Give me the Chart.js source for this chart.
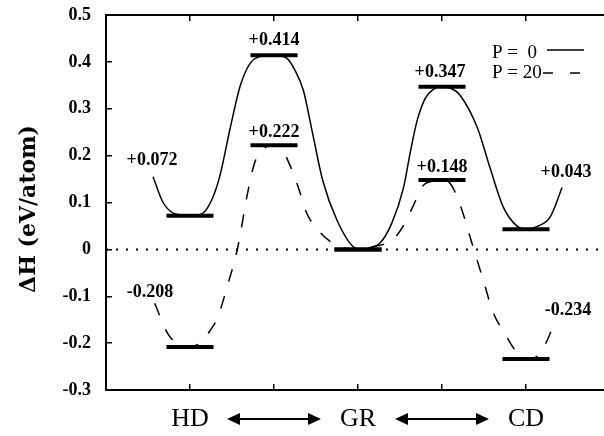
<!DOCTYPE html>
<html><head><meta charset="utf-8">
<script src="https://cdn.jsdelivr.net/npm/chart.js@4"></script>
<style>
html,body{margin:0;padding:0;overflow:hidden;background:#fff;width:604px;height:436px}
#wrap{width:604px;height:436px;overflow:hidden;position:relative}
canvas{display:block}
</style></head>
<body><div id="wrap"><canvas id="c" width="616" height="436"></canvas></div>
<script>
// ---- data ----
const levelX = [1, 2, 3, 4, 5];
const levelsP0 = [0.072, 0.414, 0, 0.347, 0.043];
const levelsP20 = [-0.208, 0.222, 0, 0.148, -0.234];
const labelsP0 = ['+0.072', '+0.414', '', '+0.347', '+0.043'];
const labelsP20 = ['-0.208', '+0.222', '', '+0.148', '-0.234'];
const categoryLabels = ['', 'HD', '', 'GR', '', 'CD', ''];
const arrowCenters = [2, 4];
const legendLabels = ['P =  0', 'P = 20'];
const yTitle = '\u0394H (eV/atom)';

const curveP0X = [0.56,0.68,0.82,1.00,1.15,1.27,1.36,1.48,1.60,1.72,1.85,2.00,2.15,2.25,2.35,2.46,2.58,2.75,2.94,3.05,3.15,3.26,3.40,3.54,3.62,3.70,3.80,3.90,4.00,4.10,4.21,4.42,4.57,4.73,4.89,5.00,5.15,5.29,5.43];
const curveP0Y = [0.155,0.100,0.076,0.072,0.077,0.110,0.160,0.260,0.350,0.398,0.412,0.414,0.408,0.382,0.339,0.247,0.147,0.062,0.006,0.000,0.004,0.013,0.055,0.130,0.205,0.272,0.322,0.342,0.347,0.344,0.330,0.260,0.175,0.090,0.050,0.043,0.050,0.070,0.132];

const curveP20X = [0.58,0.73,0.87,1.00,1.13,1.24,1.33,1.45,1.57,1.68,1.77,1.88,2.00,2.10,2.20,2.29,2.39,2.55,2.75,3.00,3.20,3.42,3.54,3.65,3.77,3.90,4.00,4.10,4.21,4.37,4.49,4.61,4.75,4.87,5.00,5.15,5.25,5.32];
const curveP20Y = [-0.115,-0.178,-0.204,-0.208,-0.198,-0.173,-0.145,-0.075,0.005,0.115,0.185,0.215,0.222,0.212,0.175,0.132,0.077,0.036,0.008,0.000,0.006,0.022,0.050,0.090,0.135,0.146,0.148,0.140,0.098,0.005,-0.065,-0.135,-0.180,-0.215,-0.234,-0.226,-0.195,-0.165];

// ---- layout / style ----
const BAR_HALF = 0.28;
const SERIF = "'Liberation Serif', 'Times New Roman', serif";
const labelOffsetsP0 = [[-38,-55],[0,-15],null,[-2,-14],[40,-57]];
const labelOffsetsP20 = [[-40,-55],[0,-13],null,[0,-13],[42,-49]];

function pts(xs, ys) { return xs.map((x, i) => ({x, y: ys[i]})); }
function barSegs(xs, vs) {
  const out = [];
  xs.forEach((x, i) => {
    out.push({x: x - BAR_HALF, y: vs[i]}, {x: x + BAR_HALF, y: vs[i]}, {x: x + BAR_HALF + 0.001, y: null});
  });
  return out;
}
function noPad(s) { s.paddingLeft = 0; s.paddingRight = 0; s.paddingTop = 0; s.paddingBottom = 0; }

const frameBorder = { display: true, color: '#000', width: 2 };
const inwardTicks = { display: true, drawOnChartArea: false, drawTicks: true, tickLength: -6, color: '#000', lineWidth: 1.5 };

const deco = {
  id: 'deco',
  afterDraw(chart) {
    const ctx = chart.ctx;
    const x = chart.scales.x, y = chart.scales.y;
    ctx.save();
    ctx.setLineDash([]);
    ctx.fillStyle = '#000'; ctx.strokeStyle = '#000';
    ctx.font = 'bold 18px ' + SERIF;
    ctx.textAlign = 'center'; ctx.textBaseline = 'middle';
    const drawLabels = (vals, labs, offs) => {
      vals.forEach((v, i) => {
        if (!labs[i] || !offs[i]) return;
        const px = x.getPixelForValue(levelX[i]) + offs[i][0];
        const py = y.getPixelForValue(v) + offs[i][1];
        ctx.fillText(labs[i], px, py);
      });
    };
    drawLabels(levelsP0, labelsP0, labelOffsetsP0);
    drawLabels(levelsP20, labelsP20, labelOffsetsP20);
    ctx.font = '19px ' + SERIF;
    ctx.textAlign = 'left';
    ctx.fillText(legendLabels[0], 492, 53);
    ctx.fillText(legendLabels[1], 492, 73);
    ctx.lineWidth = 1.5;
    ctx.beginPath(); ctx.moveTo(547, 50); ctx.lineTo(584, 50); ctx.stroke();
    ctx.setLineDash([10, 17]);
    ctx.beginPath(); ctx.moveTo(543, 73); ctx.lineTo(584, 73); ctx.stroke();
    ctx.setLineDash([]);
    const ay = 419, half = 47, head = 13, hh = 6;
    ctx.lineWidth = 2;
    arrowCenters.forEach(c => {
      const cx = x.getPixelForValue(c);
      ctx.beginPath(); ctx.moveTo(cx - half + head - 1, ay); ctx.lineTo(cx + half - head + 1, ay); ctx.stroke();
      ctx.beginPath();
      ctx.moveTo(cx - half, ay); ctx.lineTo(cx - half + head, ay - hh); ctx.lineTo(cx - half + head, ay + hh); ctx.closePath();
      ctx.moveTo(cx + half, ay); ctx.lineTo(cx + half - head, ay - hh); ctx.lineTo(cx + half - head, ay + hh); ctx.closePath();
      ctx.fill();
    });
    ctx.translate(35, 209);
    ctx.rotate(-Math.PI / 2);
    ctx.font = "bold 22px 'DejaVu Serif', serif";
    ctx.textAlign = 'center'; ctx.textBaseline = 'alphabetic';
    ctx.fillText(yTitle, 0, 0);
    ctx.restore();
  }
};

new Chart(document.getElementById('c'), {
  type: 'line',
  data: {
    datasets: [
      { data: barSegs(levelX, levelsP0), borderColor: '#000', borderWidth: 4, borderCapStyle: 'butt', pointRadius: 0, spanGaps: false, order: 0 },
      { data: barSegs(levelX, levelsP20), borderColor: '#000', borderWidth: 4, borderCapStyle: 'butt', pointRadius: 0, spanGaps: false, order: 0 },
      { data: pts(curveP0X, curveP0Y), borderColor: '#000', borderWidth: 1.5, pointRadius: 0, cubicInterpolationMode: 'monotone', order: 1 },
      { data: pts(curveP20X, curveP20Y), borderColor: '#000', borderWidth: 1.5, borderDash: [13, 15], pointRadius: 0, cubicInterpolationMode: 'monotone', order: 1 },
      { data: [{x: 0, y: 0}, {x: 6, y: 0}], borderColor: '#000', borderWidth: 2, borderDash: [2, 8], pointRadius: 0, order: 2 }
    ]
  },
  options: {
    responsive: false,
    animation: false,
    devicePixelRatio: 1,
    layout: { padding: { top: 15, right: 6, left: 0, bottom: 0 } },
    plugins: { legend: { display: false }, tooltip: { enabled: false } },
    scales: {
      x: {
        type: 'linear', position: 'bottom', min: 0, max: 6,
        grid: inwardTicks, border: frameBorder,
        ticks: {
          stepSize: 1, autoSkip: false, maxRotation: 0, padding: 20,
          color: '#000', font: { family: SERIF, size: 26 },
          callback: v => categoryLabels[v] || ''
        },
        afterFit: s => { s.height = 46; noPad(s); }
      },
      x2: {
        type: 'linear', position: 'top', min: 0, max: 6,
        grid: inwardTicks, border: frameBorder,
        ticks: { stepSize: 1, display: false },
        afterFit: s => { s.height = 0; noPad(s); }
      },
      y: {
        position: 'left', min: -0.3, max: 0.5,
        grid: inwardTicks, border: frameBorder,
        ticks: {
          stepSize: 0.1, padding: 21, color: '#000',
          font: { family: SERIF, size: 18, weight: 'bold' },
          callback: v => Math.abs(v) < 1e-9 ? '0' : v.toFixed(1)
        },
        afterFit: s => { s.width = 106; noPad(s); }
      },
      y2: {
        position: 'right', min: -0.3, max: 0.5,
        grid: inwardTicks, border: frameBorder,
        ticks: { stepSize: 0.1, display: false },
        afterFit: s => { s.width = 0; noPad(s); }
      }
    }
  },
  plugins: [deco]
});
</script>
</body></html>
